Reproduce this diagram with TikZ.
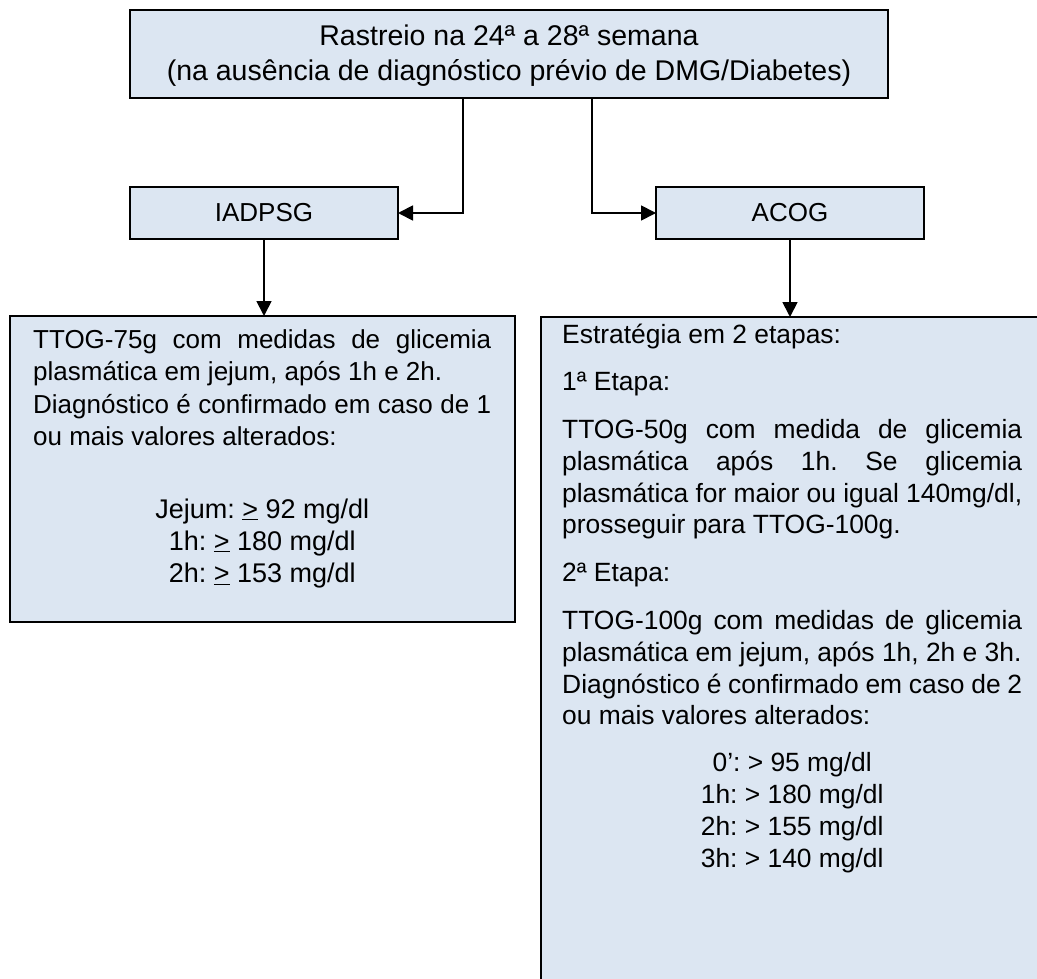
\documentclass[tikz,border=0pt]{standalone}
\usepackage{fontspec}
\setmainfont{Liberation Sans}
\usetikzlibrary{arrows.meta}
\definecolor{boxfill}{HTML}{DCE6F2}
\hbadness=10000
\hyphenpenalty=10000
\frenchspacing
\begin{document}
\begin{tikzpicture}[x=1pt,y=-1pt,
  box/.style={draw=black, line width=2.6pt, fill=boxfill, inner sep=0pt, outer sep=0pt},
  conn/.style={draw=black, line width=1.8pt, -{Triangle[length=15pt,width=15pt]}},
  txt/.style={anchor=base, inner sep=0pt}]
\useasboundingbox (0,0) rectangle (1037,979);
\clip (0,0) rectangle (1037,979);
% boxes
\node[box, minimum width=758pt, minimum height=88pt] (top) at (509,54) {};
\node[box, minimum width=268pt, minimum height=52pt, font=\fontsize{26}{30}\selectfont] (iad) at (264,213) {IADPSG};
\node[box, minimum width=268pt, minimum height=52pt, font=\fontsize{26}{30}\selectfont] (acog) at (790,213) {ACOG};
\node[box, minimum width=505pt, minimum height=306pt] (lbox) at (262.5,469) {};
\node[box, minimum width=529pt, minimum height=693pt] (rbox) at (805.5,663.5) {};
% texts
\node[txt] (toptxt) at (509,46) {\vtop{\hsize=740pt\centering\fontsize{28.5}{35}\selectfont
 Rastreio na 24ª a 28ª semana\par
 (na ausência de diagnóstico prévio de DMG/Diabetes)\par}};
\node[txt, anchor=base west] (ltxt) at (33,348) {\vtop{\hsize=458pt\parindent=0pt\fontsize{26}{32.6}\selectfont
 TTOG-75g com medidas de glicemia\linebreak plasmática em jejum, após 1h e 2h.\par
 Diagnóstico é confirmado em caso de 1\linebreak ou mais valores alterados:\par
 \vskip 40pt
 {\fontsize{27}{32.2}\selectfont\centering Jejum: \underline{>} 92 mg/dl\par 1h: \underline{>} 180 mg/dl\par 2h: \underline{>} 153 mg/dl\par}}};
\node[txt, anchor=base west] (rtxt) at (562,343) {\vtop{\hsize=460pt\parindent=0pt\fontsize{26.4}{31.8}\selectfont
 Estratégia em 2 etapas:\par
 \vskip 16pt
 1ª Etapa:\par
 \vskip 16pt
 TTOG-50g com medida de glicemia\linebreak plasmática após 1h. Se glicemia\linebreak plasmática for maior ou igual 140mg/dl,\linebreak prosseguir para TTOG-100g.\par
 \vskip 16pt
 2ª Etapa:\par
 \vskip 16pt
 TTOG-100g com medidas de glicemia\linebreak plasmática em jejum, após 1h, 2h e 3h.\par
 Diagnóstico é confirmado em caso de 2\linebreak ou mais valores alterados:\par
 \vskip 15pt
 {\centering 0’: > 95 mg/dl\par 1h: > 180 mg/dl\par 2h: > 155 mg/dl\par 3h: > 140 mg/dl\par}}};
% connectors
\coordinate (c1) at (463,0);
\coordinate (c2) at (592,0);
\draw[conn] (top.south -| c1) |- (iad.east);
\draw[conn] (top.south -| c2) |- (acog.west);
\draw[conn] (iad.south) -- (iad.south |- lbox.north);
\draw[conn] (acog.south) -- (acog.south |- rbox.north);
\end{tikzpicture}
\end{document}
